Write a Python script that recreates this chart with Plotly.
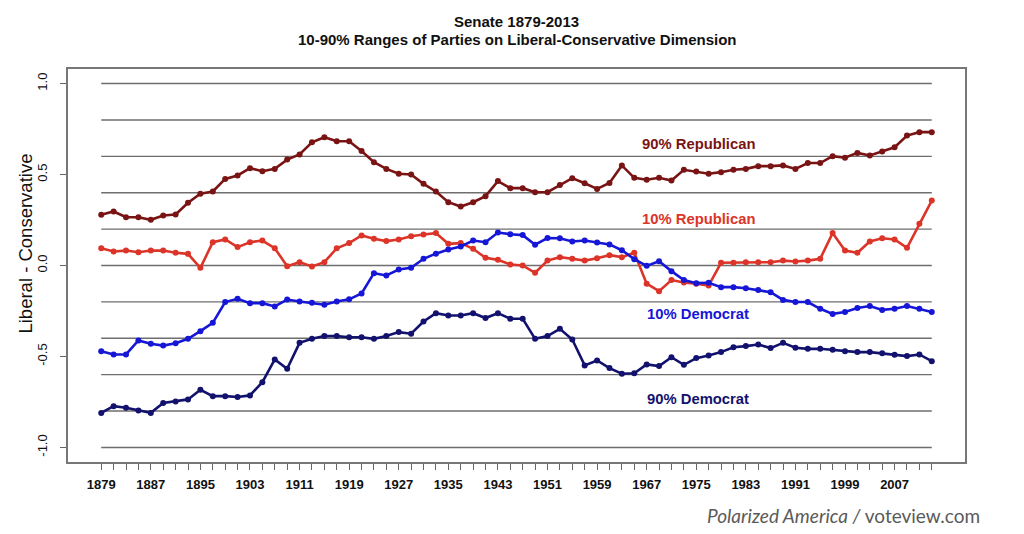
import plotly.graph_objects as go

years = list(range(1879, 2014, 2))

rep90 = [0.279, 0.297, 0.265, 0.265, 0.251, 0.275, 0.280, 0.345, 0.394, 0.407,
         0.476, 0.495, 0.535, 0.518, 0.531, 0.582, 0.610, 0.677, 0.705, 0.683,
         0.683, 0.629, 0.568, 0.531, 0.504, 0.500, 0.449, 0.407, 0.348, 0.324,
         0.348, 0.381, 0.464, 0.425, 0.425, 0.403, 0.403, 0.443, 0.480, 0.452,
         0.421, 0.454, 0.550, 0.482, 0.471, 0.482, 0.467, 0.526, 0.517, 0.504,
         0.513, 0.526, 0.531, 0.546, 0.546, 0.550, 0.531, 0.563, 0.563, 0.601,
         0.592, 0.619, 0.605, 0.626, 0.650, 0.714, 0.733, 0.733]

rep10 = [0.095, 0.077, 0.082, 0.073, 0.082, 0.082, 0.070, 0.064, -0.013, 0.128,
         0.143, 0.101, 0.128, 0.137, 0.095, -0.004, 0.018, -0.005, 0.018, 0.095,
         0.123, 0.165, 0.147, 0.134, 0.143, 0.161, 0.170, 0.178, 0.119, 0.123,
         0.092, 0.042, 0.031, 0.005, 0.000, -0.040, 0.027, 0.046, 0.037, 0.027,
         0.040, 0.057, 0.046, 0.070, -0.100, -0.141, -0.080, -0.093, -0.100, -0.110,
         0.015, 0.015, 0.018, 0.018, 0.018, 0.027, 0.022, 0.027, 0.037, 0.178,
         0.082, 0.070, 0.132, 0.150, 0.143, 0.097, 0.229, 0.357]

dem10 = [-0.471, -0.489, -0.489, -0.412, -0.430, -0.440, -0.427, -0.403, -0.361, -0.315,
         -0.201, -0.183, -0.207, -0.207, -0.225, -0.187, -0.198, -0.205, -0.216, -0.198,
         -0.186, -0.154, -0.042, -0.055, -0.022, -0.013, 0.037, 0.065, 0.088, 0.105,
         0.137, 0.128, 0.181, 0.172, 0.167, 0.114, 0.151, 0.150, 0.132, 0.137,
         0.126, 0.116, 0.084, 0.035, -0.002, 0.023, -0.031, -0.080, -0.097, -0.095,
         -0.119, -0.119, -0.125, -0.134, -0.147, -0.189, -0.201, -0.201, -0.238, -0.266,
         -0.256, -0.234, -0.223, -0.244, -0.238, -0.223, -0.238, -0.256]

dem90 = [-0.810, -0.773, -0.782, -0.797, -0.810, -0.756, -0.747, -0.736, -0.683, -0.718,
         -0.718, -0.723, -0.714, -0.641, -0.516, -0.568, -0.425, -0.403, -0.388, -0.388,
         -0.394, -0.394, -0.403, -0.388, -0.366, -0.375, -0.308, -0.262, -0.275, -0.275,
         -0.262, -0.289, -0.262, -0.293, -0.293, -0.403, -0.388, -0.348, -0.407, -0.549,
         -0.522, -0.564, -0.595, -0.592, -0.544, -0.553, -0.504, -0.546, -0.509, -0.495,
         -0.476, -0.449, -0.443, -0.434, -0.454, -0.425, -0.452, -0.458, -0.458, -0.463,
         -0.471, -0.476, -0.476, -0.482, -0.491, -0.498, -0.489, -0.526]

series_names = ["90% Republican", "10% Republican", "10% Democrat", "90% Democrat"]
series_colors = ["#7a1414", "#dc3429", "#1616d6", "#12126e"]
label_x = [1965.9, 1965.9, 1966.7, 1966.7]
label_y = [0.67, 0.258, -0.264, -0.736]

x_tick_years = list(range(1879, 2008, 8))
y_tick_vals = [-1.0, -0.5, 0.0, 0.5, 1.0]
y_tick_text = ["-1.0", "-0.5", "0.0", "0.5", "1.0"]
grid_levels = [-1.0, -0.8, -0.6, -0.4, -0.2, 0.0, 0.2, 0.4, 0.6, 0.8, 1.0]

FONT = "Liberation Sans, Arial, sans-serif"

fig = go.Figure()

for vals, name, col in zip([rep90, rep10, dem10, dem90], series_names, series_colors):
    fig.add_trace(go.Scatter(
        x=years, y=vals, mode="lines+markers", name=name,
        line=dict(color=col, width=2.6),
        marker=dict(color=col, size=6),
        showlegend=False,
    ))

shapes = []
for g in grid_levels:
    shapes.append(dict(type="line", xref="x", yref="y",
                       x0=years[0], x1=years[-1], y0=g, y1=g,
                       line=dict(color="#6e6e6e", width=1.4), layer="below"))

annotations = []
for name, col, lx, ly in zip(series_names, series_colors, label_x, label_y):
    annotations.append(dict(x=lx, y=ly, xref="x", yref="y", text=name,
                            showarrow=False, xanchor="left", yanchor="middle",
                            font=dict(family=FONT, size=14.8, color=col, weight="bold")))

annotations += [
    dict(x=0.5, y=1.1204, xref="paper", yref="paper", text="Senate 1879-2013",
         showarrow=False, xanchor="center", yanchor="middle",
         font=dict(family=FONT, size=15, color="#111111", weight="bold")),
    dict(x=0.5, y=1.0756, xref="paper", yref="paper",
         text="10-90% Ranges of Parties on Liberal-Conservative Dimension",
         showarrow=False, xanchor="center", yanchor="middle",
         font=dict(family=FONT, size=15, color="#111111", weight="bold")),
    dict(x=-0.0479, y=0.556, xref="paper", yref="paper", text="Liberal - Conservative",
         showarrow=False, xanchor="center", yanchor="middle", textangle=-90,
         font=dict(family=FONT, size=18.5, color="#111111")),
    dict(x=0.865, y=-0.1374, xref="paper", yref="paper",
         text="<i>Polarized America /</i> voteview.com",
         showarrow=False, xanchor="center", yanchor="middle",
         font=dict(family="Lato, Open Sans, sans-serif", size=19, color="#5a5a5a")),
]

fig.update_layout(
    width=1016, height=526,
    margin=dict(l=60, r=59, t=61, b=72),
    paper_bgcolor="white", plot_bgcolor="white",
    shapes=shapes, annotations=annotations,
    font=dict(family=FONT, color="#111111"),
)

fig.update_xaxes(
    range=[1873.64, 2018.36],
    tickmode="array", tickvals=x_tick_years, ticktext=[str(y) for y in x_tick_years],
    ticks="outside", ticklen=6, tickwidth=1, tickcolor="#666666",
    tickfont=dict(family=FONT, size=13, color="#111111", weight="bold"),
    ticklabelstandoff=4,
    minor=dict(tickmode="array", tickvals=years, ticks="outside", ticklen=6,
               tickwidth=1, tickcolor="#666666", showgrid=False),
    showline=True, mirror=True, linecolor="#777777", linewidth=1.5,
    showgrid=False, zeroline=False,
)

fig.update_yaxes(
    range=[-1.08, 1.08],
    tickmode="array", tickvals=y_tick_vals, ticktext=y_tick_text,
    tickangle=-90,
    ticks="outside", ticklen=6, tickwidth=1, tickcolor="#666666",
    tickfont=dict(family=FONT, size=13, color="#111111"),
    ticklabelstandoff=8,
    showline=True, mirror=True, linecolor="#777777", linewidth=1.5,
    showgrid=False, zeroline=False,
)

fig.write_html("out.html")
